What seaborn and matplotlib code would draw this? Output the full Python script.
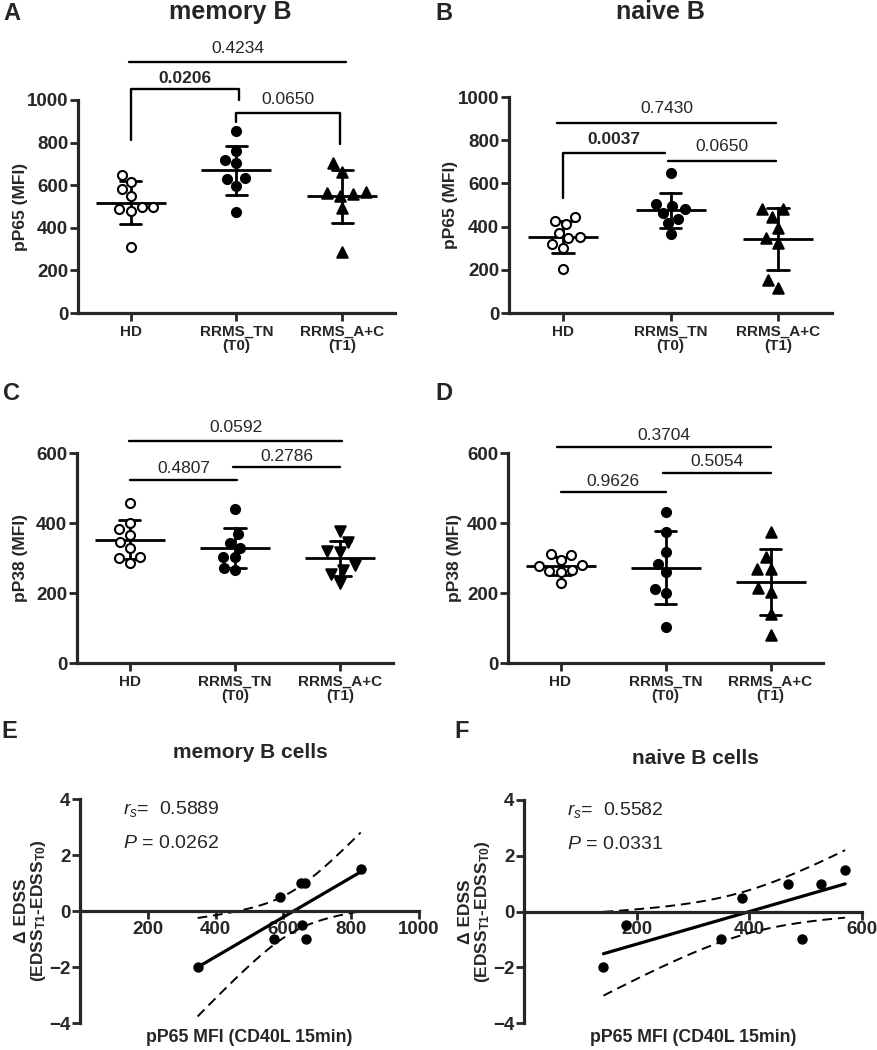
import numpy as np
import pandas as pd
import matplotlib
matplotlib.use("Agg")
import matplotlib.pyplot as plt
import seaborn as sns

groups = ["HD", "RRMS_TN", "RRMS_A+C"]
group_labels = ["HD", "RRMS_TN\n(T0)", "RRMS_A+C\n(T1)"]

# pP65 MFI, memory B (panel A)
a_hd = [650, 614, 581, 547, 500, 489, 477, 497, 308]
a_tn = [855, 762, 703, 716, 628, 597, 633, 472]
a_ac = [703, 661, 562, 550, 559, 570, 492, 286]
a_p = ["0.0206", "0.0650", "0.4234"]  # HD-TN, TN-A+C, HD-A+C

# pP65 MFI, naive B (panel B)
b_hd = [443, 428, 412, 351, 372, 345, 320, 300, 205]
b_tn = [646, 494, 503, 480, 462, 437, 415, 365]
b_ac = [482, 482, 446, 394, 345, 323, 151, 115]
b_p = ["0.0037", "0.0650", "0.7430"]

# pP38 MFI, memory B (panel C)
c_hd = [456, 401, 367, 382, 345, 328, 302, 299, 287]
c_tn = [440, 368, 344, 330, 304, 302, 266, 272]
c_ac = [378, 346, 317, 320, 280, 266, 254, 229]
c_p = ["0.4807", "0.2786", "0.0592"]

# pP38 MFI, naive B (panel D)
d_hd = [312, 310, 294, 280, 278, 266, 262, 260, 228]
d_tn = [432, 375, 316, 283, 259, 212, 199, 104]
d_ac = [373, 304, 270, 270, 204, 214, 140, 79]
d_p = ["0.9626", "0.5054", "0.3704"]

# correlation pP65 MFI vs delta EDSS (panels E, F)
e_x = [347, 571, 589, 653, 663, 656, 667, 828]
e_y = [-2, -1, 0.5, 1, 1, -0.5, -1, 1.5]
e_rs, e_pval = "0.5889", "0.0262"

f_x = [141, 181, 350, 387, 469, 493, 527, 570]
f_y = [-2, -0.5, -1, 0.5, 1, -1, 1, 1.5]
f_rs, f_pval = "0.5582", "0.0331"

sns.set_style("ticks")
plt.rcParams["font.family"] = ["Liberation Sans", "DejaVu Sans"]
plt.rcParams["mathtext.fontset"] = "custom"
plt.rcParams["mathtext.rm"] = "Liberation Sans"
plt.rcParams["mathtext.it"] = "Liberation Sans:italic"
plt.rcParams["mathtext.bf"] = "Liberation Sans:bold"

W, H = 877, 1050
fig = plt.figure(figsize=(W / 100, H / 100), dpi=100)


def px_axes(left, right, top, bottom):
    return fig.add_axes([left / W, 1 - bottom / H, (right - left) / W, (bottom - top) / H])


def style_axes(ax, xsize=11):
    sns.despine(ax=ax)
    for s in ["left", "bottom"]:
        ax.spines[s].set_linewidth(2.3)
    ax.tick_params(width=2, length=5.5, pad=1.5)
    ax.tick_params(axis="y", labelsize=13.5)
    ax.tick_params(axis="x", labelsize=xsize, pad=3)
    for t in ax.get_xticklabels() + ax.get_yticklabels():
        t.set_fontweight("bold")


def bracket(ax, x1, x2, y, text, ty, bold=False, leg1=None, leg2=None):
    ys = [y if leg1 is None else leg1, y, y, y if leg2 is None else leg2]
    ax.plot([x1, x1, x2, x2], ys, color="black", lw=1.7, clip_on=False)
    ax.text((x1 + x2) / 2, ty, text, ha="center", va="center", fontsize=12.5,
            fontweight="bold" if bold else "normal", clip_on=False)


def dot_panel(ax, hd, tn, ac, markers, ymax, ystep, ylabel, label_x):
    df = pd.DataFrame({
        "group": ["HD"] * len(hd) + ["RRMS_TN"] * len(tn) + ["RRMS_A+C"] * len(ac),
        "value": hd + tn + ac,
    })
    ax.set_xlim(-0.5, 2.5)
    ax.set_ylim(0, ymax)
    sns.pointplot(data=df, x="group", y="value", order=groups, errorbar="sd",
                  capsize=0.2, color="black", marker="_", markersize=50,
                  markeredgewidth=2, linestyle="none", err_kws={"linewidth": 2}, ax=ax)
    for g, m, fc, sz in zip(groups, markers, ["white", "black", "black"], [6.5, 6.5, 7.5]):
        sns.swarmplot(data=df[df["group"] == g], x="group", y="value", order=groups,
                      marker=m, color=fc, edgecolor="black", linewidth=1.5, size=sz,
                      ax=ax, zorder=3)
    ax.set_xlim(-0.5, 2.5)
    ax.set_ylim(0, ymax)
    ax.set_yticks(np.arange(0, ymax + 1, ystep))
    ax.set_xticks(range(3))
    ax.set_xticklabels(group_labels, linespacing=1.05)
    ax.set_xlabel("")
    ax.set_ylabel(ylabel, fontsize=12.5, fontweight="bold")
    ax.yaxis.set_label_coords(label_x, 0.5)
    style_axes(ax)


def corr_panel(ax, x, y, xmax, rs, pval, label_x, t_crit=2.447):
    ax.set_xlim(0, xmax)
    ax.set_ylim(-4, 4)
    sns.regplot(x=x, y=y, ci=None, color="black", ax=ax,
                scatter_kws={"s": 42, "alpha": 1, "zorder": 3},
                line_kws={"linewidth": 2.3})
    xa, ya = np.array(x, float), np.array(y, float)
    n = len(xa)
    slope, icpt = np.polyfit(xa, ya, 1)
    xx = np.linspace(xa.min(), xa.max(), 100)
    fit = icpt + slope * xx
    s = np.sqrt(((ya - (icpt + slope * xa)) ** 2).sum() / (n - 2))
    se = s * np.sqrt(1 / n + (xx - xa.mean()) ** 2 / ((xa - xa.mean()) ** 2).sum())
    ax.plot(xx, fit + t_crit * se, color="black", lw=1.4, ls=(0, (5, 3)))
    ax.plot(xx, fit - t_crit * se, color="black", lw=1.4, ls=(0, (5, 3)))
    ax.set_xlim(0, xmax)
    ax.set_ylim(-4, 4)
    ax.spines["bottom"].set_position(("data", 0))
    ax.set_xticks(np.arange(200, xmax + 1, 200))
    ax.set_yticks([-4, -2, 0, 2, 4])
    ax.text(0.127, 0.955, f"$r_s$=  {rs}", transform=ax.transAxes, fontsize=14, va="center")
    ax.text(0.127, 0.8, f"$P$ = {pval}", transform=ax.transAxes, fontsize=14, va="center")
    ax.set_ylabel("Δ EDSS\n(EDSS$_{\\mathbf{T1}}$-EDSS$_{\\mathbf{T0}}$)",
                  fontsize=12.5, fontweight="bold", linespacing=1.0)
    ax.yaxis.set_label_coords(label_x, 0.5)
    ax.set_xlabel("pP65 MFI (CD40L 15min)", fontsize=12.8, fontweight="bold")
    ax.xaxis.set_label_coords(0.5, -0.025)
    style_axes(ax, xsize=13.5)
    ax.tick_params(axis="x", pad=1.5)


axA = px_axes(78, 395, 100, 313)
dot_panel(axA, a_hd, a_tn, a_ac, ["o", "o", "^"], 1000, 200, "pP65 (MFI)", -0.158)
bracket(axA, 0, 1.02, 1052, a_p[0], 1103, bold=True, leg1=812, leg2=1000)
bracket(axA, 1.0, 1.98, 939, a_p[1], 1000, leg1=897, leg2=793)
bracket(axA, -0.02, 2.04, 1178, a_p[2], 1244)

axB = px_axes(509, 832, 97, 313)
dot_panel(axB, b_hd, b_tn, b_ac, ["o", "o", "^"], 1000, 200, "pP65 (MFI)", -0.158)
bracket(axB, 0, 0.95, 743, b_p[0], 803, bold=True, leg1=531)
bracket(axB, 0.98, 1.98, 702, b_p[1], 771)
bracket(axB, -0.05, 1.98, 881, b_p[2], 946)

axC = px_axes(77, 393, 453, 663)
dot_panel(axC, c_hd, c_tn, c_ac, ["o", "o", "v"], 600, 200, "pP38 (MFI)", -0.155)
bracket(axC, 0, 1.02, 523, c_p[0], 557)
bracket(axC, 0.98, 2.0, 560, c_p[1], 591)
bracket(axC, -0.01, 2.02, 634, c_p[2], 674)

axD = px_axes(508, 823, 453, 663)
dot_panel(axD, d_hd, d_tn, d_ac, ["o", "o", "^"], 600, 200, "pP38 (MFI)", -0.146)
bracket(axD, 0, 1.0, 489, d_p[0], 520)
bracket(axD, 0.98, 2.0, 543, d_p[1], 577)
bracket(axD, -0.03, 2.0, 617, d_p[2], 649)

axE = px_axes(80, 419, 799, 1023)
corr_panel(axE, e_x, e_y, 1000, e_rs, e_pval, -0.095)

axF = px_axes(524, 862, 800, 1023)
corr_panel(axF, f_x, f_y, 600, f_rs, f_pval, -0.095)

# panel letters and titles
for lab, x, y in [("A", 12, 13), ("B", 444, 13), ("C", 12, 394),
                  ("D", 444, 394), ("E", 9, 732), ("F", 462, 732)]:
    fig.text(x / W, 1 - y / H, lab, fontsize=17, fontweight="bold", ha="center", va="center")
for title, x, y, fs in [("memory B", 230, 12, 18), ("naive B", 660, 12, 18),
                        ("memory B cells", 250, 752, 15), ("naive B cells", 695, 758, 15)]:
    fig.text(x / W, 1 - y / H, title, fontsize=fs, fontweight="bold", ha="center", va="center")

fig.savefig("out.png", dpi=100)
